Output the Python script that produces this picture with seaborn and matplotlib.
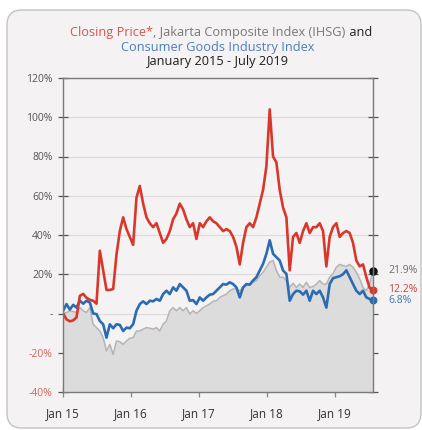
import matplotlib
matplotlib.use("Agg")
import matplotlib.pyplot as plt
from matplotlib.patches import FancyBboxPatch
import pandas as pd
import seaborn as sns

# Cumulative change since January 2015 (%), sampled roughly every 2.5 weeks
closing_price = [
    0, -3, -4, -3.5, -2, 9, 10, 8, 7, 6.5, 5, 32, 22, 12, 12, 12.5, 30, 42, 49, 43,
    39, 35, 59, 65, 56, 49, 46, 44, 46, 41, 36, 38, 42, 48, 51, 56, 53, 48, 44, 46,
    38, 46, 44, 47, 49, 47, 46, 44, 42, 43, 42, 39, 34, 25, 36, 44, 46, 44, 49, 56,
    63, 75, 104, 80, 77, 63, 54, 49, 22, 39, 41, 36, 42, 46, 41, 44, 44, 46, 42, 24,
    39, 44, 46, 39, 41, 42, 41, 36, 27, 24, 25, 18.5, 13, 12.2,
]
consumer_goods = [
    1.4, 4.8, 2, 4.4, 3, 6.5, 5, 6.5, 5.6, 0, -0.3, -3.8, -5.5, -12.3, -5.5, -7.5, -5.5, -5.8, -8.9, -7.2,
    -7.5, -5.5, 1.4, 4.8, 6.2, 4.8, 6.5, 6.2, 7.4, 6.5, 9.9, 11.6, 9.9, 13.3, 11.6, 15, 13.3, 11.6, 6.5, 6.8,
    4.8, 8.2, 6.5, 8.2, 9.6, 9.9, 11.6, 13.3, 15, 14.7, 15.9, 15, 13.3, 8.2, 13.3, 15, 14.7, 16.8, 18.5, 21.9,
    25.3, 30.4, 37.3, 30.4, 28.7, 27, 21.9, 20.2, 6.5, 9.9, 11.6, 11.3, 9.6, 11.6, 6.5, 11.6, 9.9, 11.6, 8.2, 3,
    15, 18, 18.5, 19, 20, 22, 18.5, 15, 11.6, 9.9, 11.6, 8.2, 7.4, 6.8,
]
ihsg = [
    0, 0.5, 1.4, 1, 0.5, 3, 1.4, 0.5, 3, -5.5, -7.2, -8.9, -12.3, -19.1, -15.7, -20.9, -14, -14.4, -15.7, -14,
    -12.6, -12.3, -8.9, -8.9, -8, -7.2, -7.5, -8, -7.2, -8.9, -5.5, -3.8, 1.4, 3, 1.4, 3, 1.4, 3, -0.3, 1.4,
    0, 1.4, 3, 3.9, 4.8, 6.2, 6.5, 8.2, 9.1, 9.9, 11.6, 12.5, 12.5, 11.6, 13.3, 14.2, 15, 15.9, 16.8, 19.3,
    21, 23.6, 26.2, 27, 21.9, 18.5, 18.5, 16.8, 13.3, 15.4, 13.3, 15, 13.3, 15.9, 13.3, 13.7, 15, 16.8, 15, 15,
    18.5, 20.2, 23.6, 25, 24.4, 24, 25, 23.6, 21, 17.6, 13.3, 11.6, 15, 21.9,
]
dates = pd.date_range("2015-01-02", "2019-07-26", periods=len(closing_price))

year_ticks = pd.to_datetime(["2015-01-01", "2016-01-01", "2017-01-01", "2018-01-01", "2019-01-01"])
year_labels = ["Jan 15", "Jan 16", "Jan 17", "Jan 18", "Jan 19"]
pct_ticks = [-40, -20, 0, 20, 40, 60, 80, 100, 120]
pct_labels = ["-40%", "-20%", "-", "20%", "40%", "60%", "80%", "100%", "120%"]

RED = "#d8382c"
BLUE = "#2c6bb2"
FILL = "#dddcdc"
GREY_LINE = "#b4b4b4"
PANEL = "#f4f2f2"

df = pd.DataFrame({
    "date": dates,
    "closing": closing_price,
    "consumer": consumer_goods,
    "ihsg": ihsg,
})

sns.set_style("white")
plt.rcParams["font.family"] = ["Open Sans", "DejaVu Sans"]

W, H = 422, 430
fig = plt.figure(figsize=(W / 100, H / 100), dpi=100, facecolor="white")

# rounded card behind everything
card = FancyBboxPatch((7 / W, 2 / H), 414 / W, 418 / H,
                      boxstyle="round,pad=0,rounding_size=0.035",
                      transform=fig.transFigure, facecolor=PANEL,
                      edgecolor="#c4c4c4", linewidth=1.0, zorder=-5)
fig.patches.append(card)

ax = fig.add_axes([63 / W, 1 - 392 / H, 310 / W, 314 / H])
ax.set_zorder(1)
ax.set_facecolor(PANEL)

ax.fill_between(df["date"], -40, df["ihsg"], color=FILL, linewidth=0, zorder=1)
sns.lineplot(data=df, x="date", y="ihsg", ax=ax, color=GREY_LINE, linewidth=1.1, zorder=2)
sns.lineplot(data=df, x="date", y="consumer", ax=ax, color=BLUE, linewidth=1.9, zorder=3)
sns.lineplot(data=df, x="date", y="closing", ax=ax, color=RED, linewidth=1.9, zorder=4)

last = df.iloc[-1]
ax.scatter([last["date"]], [last["ihsg"]], s=26, color="#111111", zorder=6, clip_on=False)
ax.scatter([last["date"]], [last["closing"]], s=22, color=RED, zorder=6, clip_on=False)
ax.scatter([last["date"]], [last["consumer"]], s=22, color=BLUE, zorder=6, clip_on=False)

for col, color in [("ihsg", "#6e6e6e"), ("closing", "#c8453a"), ("consumer", "#3f78b8")]:
    ax.annotate(f"{last[col]:.1f}%", xy=(last["date"], last[col]), xytext=(11, 0),
                textcoords="offset points", va="center", ha="left",
                fontsize=7.5, color=color, annotation_clip=False)

ax.set_xlim(pd.Timestamp("2015-01-01"), pd.Timestamp("2019-07-26"))
ax.set_ylim(-40, 120)
ax.set_xticks(year_ticks)
ax.set_xticklabels(year_labels)
ax.set_yticks(pct_ticks)
ax.set_yticklabels(pct_labels)
ax.set_xlabel("")
ax.set_ylabel("")

ax.grid(axis="y", color="#dddada", linewidth=0.8, zorder=0)
ax.set_axisbelow(True)

for side in ["left", "right", "top", "bottom"]:
    ax.spines[side].set_visible(True)
    ax.spines[side].set_color("#7a7a7a")
    ax.spines[side].set_linewidth(1.0)
    ax.spines[side].set_zorder(7)

ax.tick_params(axis="y", which="both", left=True, right=True, direction="inout",
               length=7, width=0.9, color="#555555", labelsize=7.5, labelcolor="#555555", pad=4)
ax.tick_params(axis="x", which="both", bottom=True, direction="inout",
               length=7, width=0.9, color="#888888", labelsize=8.5, labelcolor="#333333", pad=7)
for lab, v in zip(ax.get_yticklabels(), pct_ticks):
    if v < 0:
        lab.set_color("#d0655e")


def centered_row(y, parts, size, cx):
    renderer = fig.canvas.get_renderer()
    texts = [fig.text(0, y, s, color=c, fontsize=size, va="baseline", ha="left") for s, c in parts]
    widths = [t.get_window_extent(renderer).width for t in texts]
    x = cx * W - sum(widths) / 2
    for t, w in zip(texts, widths):
        t.set_x(x / W)
        x += w


centered_row(1 - 36 / H, [("Closing Price*", "#d2574c"),
                          (", Jakarta Composite Index (IHSG)", "#787878"),
                          ("\u00a0and", "#222222")], 9.2, 221 / W)
centered_row(1 - 51.5 / H, [("Consumer Goods Industry Index", "#4c7fbb")], 9.2, 218 / W)
centered_row(1 - 65.5 / H, [("January 2015 - July 2019", "#1e1e1e")], 9.2, 218 / W)

fig.savefig("out.png", dpi=100, facecolor="white")
